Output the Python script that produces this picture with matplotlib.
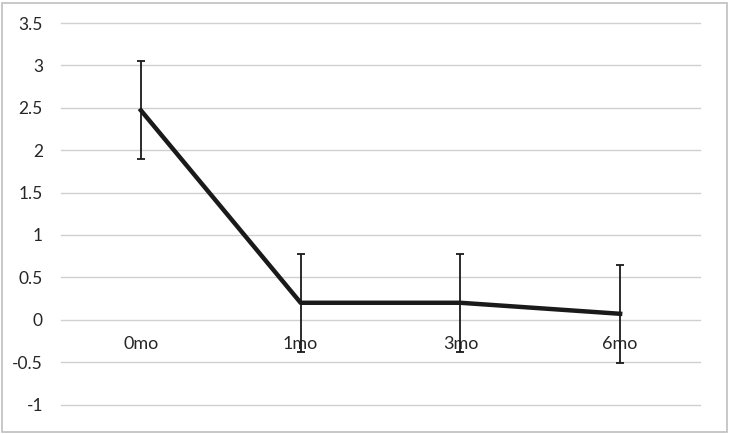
import matplotlib.pyplot as plt
from matplotlib.patches import Rectangle

months = ['0mo', '1mo', '3mo', '6mo']
means = [2.47, 0.2, 0.2, 0.07]
errors = [0.58, 0.58, 0.58, 0.58]
yticks = [-1, -0.5, 0, 0.5, 1, 1.5, 2, 2.5, 3, 3.5]

plt.rcParams['font.family'] = ['Lato', 'DejaVu Sans']

fig = plt.figure(figsize=(7.3, 4.34), dpi=100)
ax = fig.add_axes([61 / 730, 1 - 404.5 / 434, 639 / 730, 381.5 / 434])

x = list(range(len(months)))
ax.errorbar(x, means, yerr=errors, color='#1a1a1a', lw=3.2, elinewidth=1.3,
            ecolor='#1a1a1a', capsize=3, capthick=1.3, zorder=3)

ax.set_xlim(-0.5, len(months) - 0.5)
ax.set_ylim(-1, 3.5)
ax.set_yticks(yticks)
ax.set_yticklabels(['{:g}'.format(t) for t in yticks])
ax.set_xticks(x)
ax.set_xticklabels(months)
ax.grid(axis='y', color='#d0d0d0', lw=1)
for gl in ax.get_ygridlines():
    gl.set_clip_on(False)
ax.set_axisbelow(True)

for s in ['top', 'right', 'left']:
    ax.spines[s].set_visible(False)
ax.spines['bottom'].set_position(('data', 0))
ax.spines['bottom'].set_visible(False)
ax.tick_params(axis='x', length=0, pad=12, labelsize=13, labelcolor='#262626')
ax.tick_params(axis='y', length=0, pad=13, labelsize=12.5, labelcolor='#262626')

fig.patches.append(Rectangle((2 / 730, 2 / 434), 725 / 730, 429 / 434, transform=fig.transFigure,
                             fill=False, edgecolor='#bfbfbf', lw=1.2))

fig.savefig('out.png', dpi=100)
